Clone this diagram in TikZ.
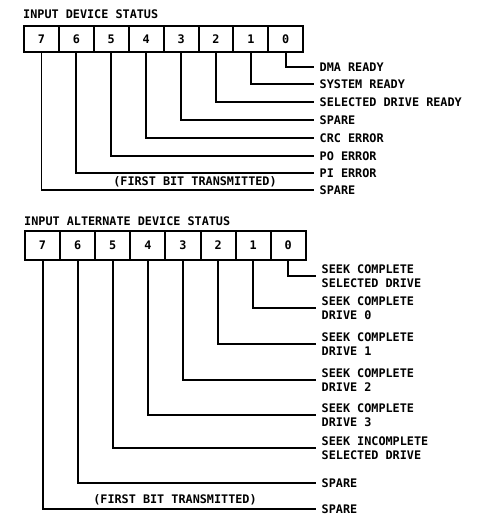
\documentclass[tikz,border=0pt]{standalone}
\usepackage{fontspec}
\setmainfont{DejaVu Sans Mono}
\begin{document}
\begin{tikzpicture}[x=1pt,y=-1pt,
  every node/.style={font=\bfseries\fontsize{11.8}{13.5}\selectfont, inner sep=0pt},
  cellt/.style={draw, line width=2pt, minimum height=26pt, minimum width=34.9pt},
  cellb/.style={draw, line width=2pt, minimum height=29pt, minimum width=35.1pt},
  wire/.style={line width=1.9pt},
  lab/.style={anchor=west, align=left, inner xsep=5.5pt},
  title/.style={anchor=west}]
\useasboundingbox (0,0) rectangle (477,516);
% ---------- top register ----------
\node[title] (ttitle) at (23,14) {INPUT DEVICE STATUS};
\foreach \b in {0,...,7} {
  \node[cellt] (t\b) at ({24+34.9*(7-\b)+17.45},39) {\b};
}
\node[lab] (tl0) at (314,67)  {DMA READY};
\node[lab] (tl1) at (314,84)  {SYSTEM READY};
\node[lab] (tl2) at (314,102) {SELECTED DRIVE READY};
\node[lab] (tl3) at (314,120) {SPARE};
\node[lab] (tl4) at (314,138) {CRC ERROR};
\node[lab] (tl5) at (314,156) {PO ERROR};
\node[lab] (tl6) at (314,173) {PI ERROR};
\node[lab] (tl7) at (314,190) {SPARE};
\foreach \b in {0,...,7} {
  \draw[wire] (t\b.south) |- (tl\b.west);
}
\node (tfirst) at (195,181.5) {(FIRST BIT TRANSMITTED)};
% ---------- bottom register ----------
\node[title] (btitle) at (24,221.5) {INPUT ALTERNATE DEVICE STATUS};
\foreach \b in {0,...,7} {
  \node[cellb] (b\b) at ({25+35.1*(7-\b)+17.55},245.5) {\b};
}
\node[lab] (bl0) at (316,276) {SEEK COMPLETE\\SELECTED DRIVE};
\node[lab] (bl1) at (316,308) {SEEK COMPLETE\\DRIVE 0};
\node[lab] (bl2) at (316,344) {SEEK COMPLETE\\DRIVE 1};
\node[lab] (bl3) at (316,380) {SEEK COMPLETE\\DRIVE 2};
\node[lab] (bl4) at (316,415) {SEEK COMPLETE\\DRIVE 3};
\node[lab] (bl5) at (316,448) {SEEK INCOMPLETE\\SELECTED DRIVE};
\node[lab] (bl6) at (316,483) {SPARE};
\node[lab] (bl7) at (316,509) {SPARE};
\foreach \b in {0,...,7} {
  \draw[wire] (b\b.south) |- (bl\b.west);
}
\node (bfirst) at (175,500) {(FIRST BIT TRANSMITTED)};
\end{tikzpicture}
\end{document}
